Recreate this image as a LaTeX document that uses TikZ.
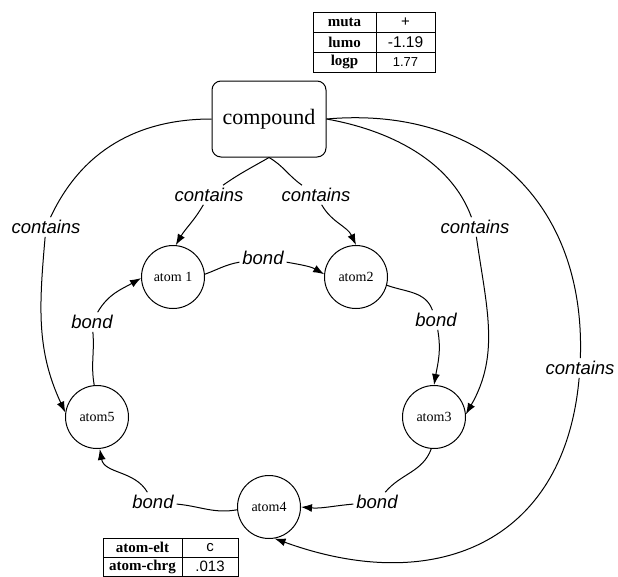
\documentclass[tikz,border=0pt]{standalone}
\usepackage{fontspec}
\setmainfont{Liberation Serif}
\setsansfont{Liberation Sans}
\usetikzlibrary{arrows.meta}
\begin{document}
\begin{tikzpicture}[x=1pt,y=1pt,
  line width=1pt,
  atom/.style={circle, draw, minimum size=63pt, inner sep=0pt, font=\fontsize{14}{16}\selectfont},
  rel/.style={font=\sffamily\itshape\fontsize{18.5}{20}\selectfont, inner sep=2.5pt},
  arr/.style={-{Latex[length=11pt,width=8pt]}},
  key/.style={draw, minimum height=20pt, inner sep=0pt, font=\bfseries\fontsize{15}{16}\selectfont},
  val/.style={draw, minimum height=20pt, inner sep=0pt, font=\sffamily\fontsize{14}{16}\selectfont},
]
\useasboundingbox (0,0) rectangle (618,-576);

% property table of the compound
\node[key, minimum width=63pt] (kmuta) at (344.5,-22) {muta};
\node[val, minimum width=59pt, font=\sffamily\fontsize{15}{16}\selectfont] (vmuta) at (405.5,-22) {+};
\node[key, minimum width=63pt] (klumo) at (344.5,-42) {lumo};
\node[val, minimum width=59pt, font=\sffamily\fontsize{15.5}{16}\selectfont] (vlumo) at (405.5,-42) {-1.19};
\node[key, minimum width=63pt] (klogp) at (344.5,-62) {logp};
\node[val, minimum width=59pt, font=\sffamily\fontsize{13}{16}\selectfont] (vlogp) at (405.5,-62) {1.77};

% compound and its atoms
\node[draw, rounded corners=9pt, minimum width=114pt, minimum height=76pt,
      font=\fontsize{22}{24}\selectfont] (compound) at (269,-119) {compound};
\node[atom] (atom1) at (173,-277) {atom 1};
\node[atom] (atom2) at (356,-277) {atom2};
\node[atom] (atom3) at (434,-417) {atom3};
\node[atom] (atom4) at (269,-507) {atom4};
\node[atom] (atom5) at (97,-417) {atom5};

% property table of atom4
\node[key, minimum width=79pt, minimum height=19pt] (kelt) at (142.5,-547.5) {atom-elt};
\node[val, minimum width=56pt, minimum height=19pt, font=\sffamily\fontsize{15}{16}\selectfont] (velt) at (210,-547.5) {c};
\node[key, minimum width=79pt, minimum height=19pt] (kchrg) at (142.5,-566.5) {atom-chrg};
\node[val, minimum width=56pt, minimum height=19pt, font=\sffamily\fontsize{15}{16}\selectfont] (vchrg) at (210,-566.5) {.013};

% relation labels
\node[rel] (cL) at (46,-227) {contains};
\node[rel] (ciL) at (209,-195) {contains};
\node[rel] (ciR) at (316,-195) {contains};
\node[rel] (cR) at (475,-227) {contains};
\node[rel] (cFR) at (580,-368) {contains};
\node[rel] (b12) at (263,-258) {bond};
\node[rel] (b51) at (92,-322) {bond};
\node[rel] (b23) at (436,-320) {bond};
\node[rel] (b34) at (377,-502) {bond};
\node[rel] (b45) at (153,-502) {bond};

% contains edges
\draw (compound.west) to[out=180,in=65] (cL);
\draw[arr] (cL) to[out=-95,in=115] (atom5.172);
\draw (compound.south) to[out=-150,in=35] (ciL);
\draw[arr] (ciL) to[out=-120,in=60] (atom1.85);
\draw (compound.south) to[out=-30,in=145] (ciR);
\draw[arr] (ciR) to[out=-60,in=115] (atom2.90);
\draw (compound.east) to[out=-10,in=110,looseness=0.9] (cR);
\draw[arr] (cR) to[out=-82,in=60] (atom3.5);
\draw (compound.east) to[out=5,in=88,looseness=1.15] (cFR);
\draw[arr] (cFR) to[out=-95,in=-20,looseness=1.25] (atom4.-80);

% bond edges
\draw (atom1.5) to[out=20,in=190] (b12);
\draw[arr] (b12) to[out=-10,in=150] (atom2.175);
\draw (atom5.95) to[out=100,in=-85] (b51);
\draw[arr] (b51) to[out=60,in=-150] (atom1.182);
\draw (atom2.-15) to[out=-20,in=110] (b23);
\draw[arr] (b23) to[out=-80,in=80] (atom3.north);
\draw (atom3.-95) to[out=-110,in=50] (b34);
\draw[arr] (b34) to[out=185,in=-5] (atom4.east);
\draw (atom4.185) to[out=190,in=-5] (b45);
\draw[arr] (b45) to[out=120,in=-80] (atom5.-85);
\end{tikzpicture}
\end{document}
